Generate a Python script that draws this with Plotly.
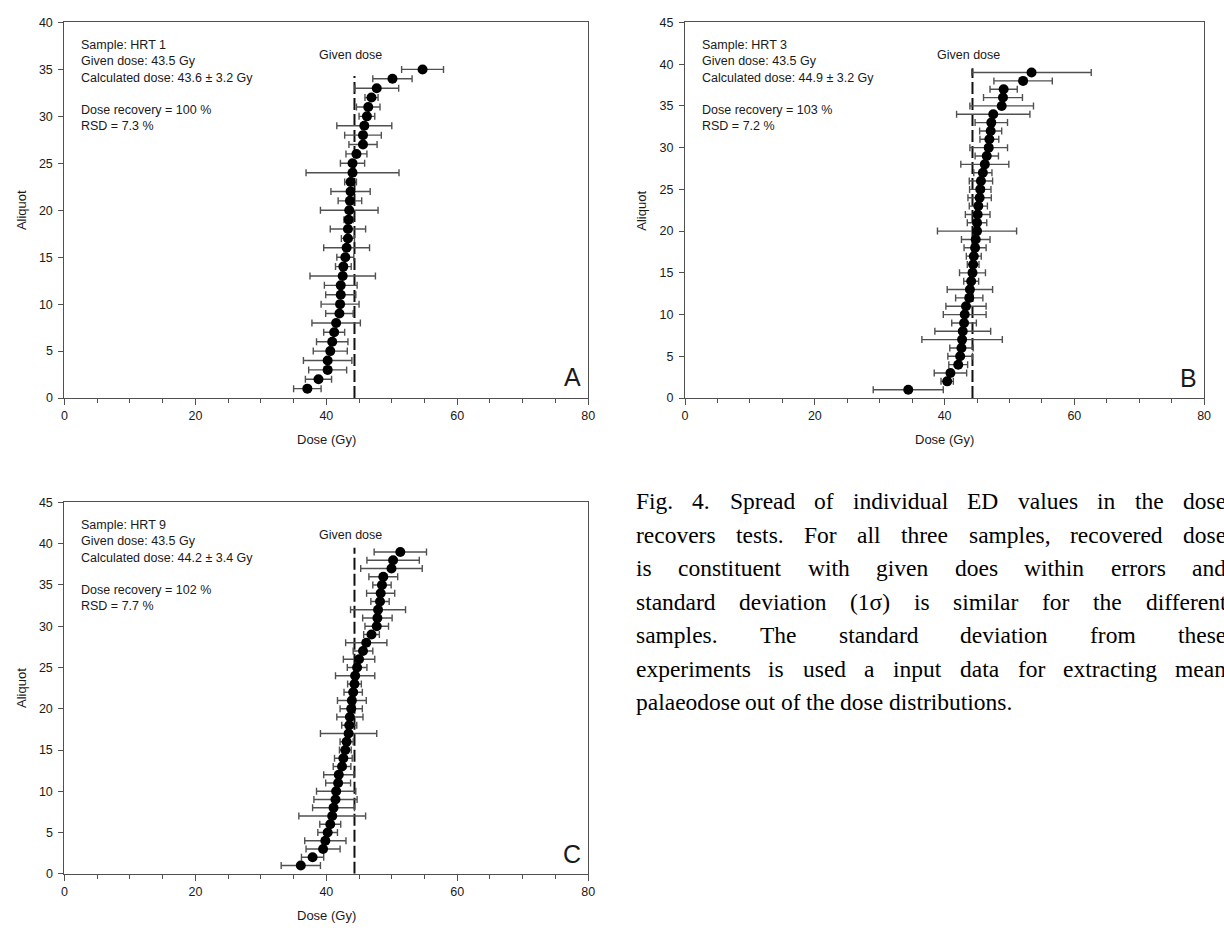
import plotly.graph_objects as go

# ---------------------------------------------------------------- data
aliquot_a = list(range(1, 36))
dose_a = [37.1, 38.8, 40.2, 40.2, 40.6, 40.9, 41.2, 41.5, 42.0, 42.1,
          42.2, 42.2, 42.5, 42.6, 42.9, 43.1, 43.3, 43.3, 43.4, 43.5,
          43.6, 43.7, 43.7, 44.0, 44.0, 44.6, 45.6, 45.6, 45.8, 46.2,
          46.4, 46.9, 47.7, 50.1, 54.7]
err_a = [2.1, 2.0, 2.9, 3.7, 2.6, 2.4, 1.6, 3.7, 2.1, 2.9,
         2.3, 2.5, 5.0, 1.2, 1.3, 3.5, 1.0, 2.7, 0.7, 4.4,
         1.8, 3.0, 0.9, 7.1, 1.85, 1.6, 2.15, 2.8, 4.2, 1.2,
         1.8, 1.0, 3.35, 3.0, 3.2]

aliquot_b = list(range(1, 40))
dose_b = [34.4, 40.4, 40.9, 42.1, 42.4, 42.6, 42.7, 42.8, 43.0, 43.1,
          43.3, 43.8, 43.9, 44.1, 44.3, 44.4, 44.5, 44.7, 44.8, 45.0,
          45.0, 45.1, 45.2, 45.4, 45.5, 45.6, 45.9, 46.2, 46.5, 46.8,
          46.9, 47.1, 47.2, 47.5, 48.8, 49.0, 49.1, 52.1, 53.4]
err_b = [5.4, 0.95, 2.5, 1.45, 1.9, 1.8, 6.2, 4.3, 1.9, 3.3,
         3.1, 2.1, 3.5, 1.15, 2.0, 0.9, 1.15, 1.7, 2.2, 6.1,
         1.5, 1.9, 1.4, 1.8, 1.65, 1.8, 1.4, 3.7, 1.8, 2.9,
         1.45, 1.7, 2.5, 5.65, 4.9, 3.0, 2.1, 4.5, 9.2]

aliquot_c = list(range(1, 40))
dose_c = [36.1, 37.9, 39.5, 39.85, 40.2, 40.6, 40.9, 41.1, 41.4, 41.5,
          41.8, 41.9, 42.4, 42.6, 42.9, 43.1, 43.4, 43.5, 43.6, 43.8,
          43.9, 44.1, 44.3, 44.4, 44.7, 45.0, 45.6, 46.1, 46.9, 47.7,
          47.8, 47.9, 48.2, 48.3, 48.5, 48.7, 49.95, 50.2, 51.3]
err_c = [3.0, 1.7, 2.6, 3.15, 1.5, 1.6, 5.1, 3.2, 3.3, 3.0,
         1.9, 2.3, 1.35, 1.35, 0.9, 1.0, 4.3, 1.15, 2.0, 1.7,
         2.2, 1.4, 1.05, 3.0, 1.5, 2.4, 1.5, 3.15, 1.2, 1.8,
         2.25, 4.2, 1.4, 2.15, 1.4, 2.2, 4.7, 4.0, 4.0]

# reference line for the given dose (x position, top of the line in aliquots)
given_line_x = [44.3, 44.3, 44.3]
given_line_top = [34.3, 39.5, 39.5]

y_max = [40, 45, 45]
panel_letters = ["A", "B", "C"]
sample_names = ["HRT 1", "HRT 3", "HRT 9"]
given_dose = ["43.5", "43.5", "43.5"]
calc_dose = ["43.6 ± 3.2", "44.9 ± 3.2", "44.2 ± 3.4"]
recovery = ["100", "103", "102"]
rsd = ["7.3", "7.2", "7.7"]

caption_lines = [
    "Fig. 4. Spread of individual ED values in the dose",
    "recovers tests. For all three samples, recovered dose",
    "is constituent with given does within errors and",
    "standard deviation (1σ) is similar for the different",
    "samples. The standard deviation from these",
    "experiments is used a input data for extracting mean",
    "palaeodose out of the dose distributions.",
]

# ---------------------------------------------------------------- layout helpers
W, H = 1224, 934
SANS = "Liberation Sans, Arial, sans-serif"
SERIF = "Liberation Serif, Times New Roman, serif"
AXIS_COL = "#505050"
TEXT_COL = "#1a1a1a"


def px_x(p):
    return p / W


def px_y(p):
    return 1 - p / H


# panel frames in pixels: (left, right, top, bottom)
frames = [(62, 590, 15.7, 397), (687.7, 1211, 15.7, 397), (62, 590, 503, 880)]
datasets = [(aliquot_a, dose_a, err_a), (aliquot_b, dose_b, err_b),
            (aliquot_c, dose_c, err_c)]

fig = go.Figure()
annotations = []
layout = {}

for i, ((l, r, t, b), (al, ds, er)) in enumerate(zip(frames, datasets)):
    n = "" if i == 0 else str(i + 1)
    xa, ya = "x" + n, "y" + n
    layout["xaxis" + n] = dict(
        domain=[px_x(l), px_x(r)], anchor=ya, range=[0, 80],
        tickvals=[0, 20, 40, 60, 80], ticks="outside", ticklen=6, tickwidth=1.2,
        tickcolor=AXIS_COL, showline=True, linecolor=AXIS_COL, linewidth=1.3,
        mirror=True, showgrid=False, zeroline=False,
        tickfont=dict(family=SANS, size=12.5, color=TEXT_COL),
        minor=dict(dtick=5, ticks="outside", ticklen=4, tickwidth=1.1,
                   tickcolor=AXIS_COL, showgrid=False),
    )
    layout["yaxis" + n] = dict(
        domain=[px_y(b), px_y(t)], anchor=xa, range=[0, y_max[i]],
        dtick=5, ticks="outside", ticklen=5, tickwidth=1.2, tickcolor=AXIS_COL,
        showline=True, linecolor=AXIS_COL, linewidth=1.3, mirror=True,
        showgrid=False, zeroline=False, ticklabelstandoff=3,
        tickfont=dict(family=SANS, size=12.5, color=TEXT_COL),
    )

    # given dose reference line
    fig.add_trace(go.Scatter(
        x=[given_line_x[i], given_line_x[i]], y=[0, given_line_top[i]],
        mode="lines", xaxis=xa, yaxis=ya, showlegend=False,
        line=dict(color="#111111", width=2, dash="12px,4px"),
    ))
    # individual aliquot doses with their errors
    fig.add_trace(go.Scatter(
        x=ds, y=al, mode="markers", xaxis=xa, yaxis=ya, showlegend=False,
        marker=dict(color="black", size=10),
        error_x=dict(type="data", array=er, visible=True, color="#505050",
                     thickness=1.4, width=3.5),
    ))

    # summary text block
    block = (f"Sample: {sample_names[i]}<br>Given dose: {given_dose[i]} Gy<br>"
             f"Calculated dose: {calc_dose[i]} Gy<br><br>"
             f"Dose recovery = {recovery[i]} %<br>RSD = {rsd[i]} %")
    annotations.append(dict(
        text=block, xref="paper", yref="paper", x=px_x(l + 15), y=px_y(t + 14),
        xanchor="left", yanchor="top", align="left", showarrow=False,
        font=dict(family=SANS, size=12.5, color=TEXT_COL),
    ))
    annotations.append(dict(
        text="Given dose", xref=xa, yref=ya, x=given_line_x[i] - 0.6,
        y=given_line_top[i] + (2.2 if i == 0 else 1.6), xanchor="center",
        yanchor="middle", showarrow=False,
        font=dict(family=SANS, size=12.5, color=TEXT_COL),
    ))
    annotations.append(dict(
        text=panel_letters[i], xref=xa, yref=ya, x=79.2, y=0.5,
        xanchor="right", yanchor="bottom", showarrow=False,
        font=dict(family=SANS, size=25, color=TEXT_COL),
    ))
    # axis titles
    annotations.append(dict(
        text="Dose (Gy)", xref="paper", yref="paper", x=px_x((l + r) / 2),
        y=px_y(b + 42), xanchor="center", yanchor="middle", showarrow=False,
        font=dict(family=SANS, size=13, color=TEXT_COL),
    ))
    annotations.append(dict(
        text="Aliquot", xref="paper", yref="paper", x=px_x(l - 44),
        y=px_y((t + b) / 2), xanchor="center", yanchor="middle", textangle=-90,
        showarrow=False, font=dict(family=SANS, size=13, color=TEXT_COL),
    ))

# ---------------------------------------------------------------- caption
# Times-Roman advance widths (per 1000 em) for justified line setting
TIMES_W = {" ": 250, ".": 250, ",": 250, "(": 333, ")": 333, "σ": 550}
TIMES_W.update({d: 500 for d in "0123456789"})
TIMES_W.update(dict(zip("ABCDEFGHIJKLMNOPQRSTUVWXYZ",
                        [722, 667, 667, 722, 611, 556, 722, 722, 333, 389, 722,
                         611, 889, 722, 722, 556, 722, 667, 556, 611, 722, 722,
                         944, 722, 722, 611])))
TIMES_W.update(dict(zip("abcdefghijklmnopqrstuvwxyz",
                        [444, 500, 444, 500, 444, 333, 500, 500, 278, 278, 500,
                         278, 778, 500, 500, 500, 500, 333, 389, 278, 500, 500,
                         722, 500, 500, 444])))

CAP_SIZE = 23.5
CAP_LEFT, CAP_RIGHT = 637, 1232
CAP_TOP, CAP_STEP = 502, 34


def word_width(s):
    return sum(TIMES_W.get(c, 500) for c in s) * CAP_SIZE / 1000


for k, line in enumerate(caption_lines):
    words = line.split()
    widths = [word_width(w) for w in words]
    if k < len(caption_lines) - 1:
        gap = (CAP_RIGHT - CAP_LEFT - sum(widths)) / (len(words) - 1)
    else:
        gap = word_width(" ")
    xpos = CAP_LEFT
    for w, wd in zip(words, widths):
        annotations.append(dict(
            text=w, xref="paper", yref="paper", x=px_x(xpos),
            y=px_y(CAP_TOP + k * CAP_STEP), xanchor="left", yanchor="middle",
            showarrow=False, borderpad=0,
            font=dict(family=SERIF, size=CAP_SIZE, color="black"),
        ))
        xpos += wd + gap

fig.update_layout(
    width=W, height=H, margin=dict(l=0, r=0, t=0, b=0),
    paper_bgcolor="white", plot_bgcolor="white",
    annotations=annotations, **layout,
)

fig.write_html("out.html", config={"displayModeBar": False})
